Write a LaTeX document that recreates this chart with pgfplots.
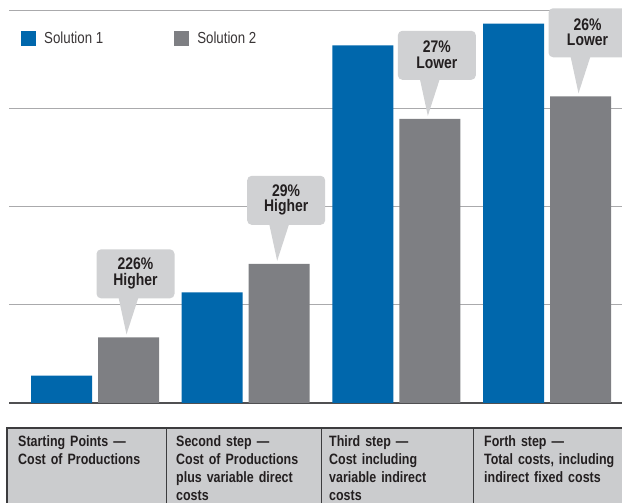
\documentclass[border=0pt]{standalone}
\usepackage{fontspec}
\setmainfont{Liberation Sans}[FakeStretch=0.83]
\usepackage{pgfplots}
\pgfplotsset{compat=1.18}

\definecolor{solblue}{RGB}{0,103,172}
\definecolor{solgray}{RGB}{126,127,131}
\definecolor{calloutgray}{RGB}{208,209,211}
\definecolor{tablegray}{RGB}{203,204,206}
\definecolor{tableline}{RGB}{60,60,62}
\definecolor{gridgray}{RGB}{170,170,172}
\definecolor{basegray}{RGB}{80,80,82}
\definecolor{ink}{RGB}{35,31,32}

% speech-bubble label pointing at the top of a Solution 2 bar
\newcommand{\callout}[4]{%
  \begin{scope}[shift={(axis cs:#1,#2)}, xshift=31.5pt, yshift=3pt]
    \fill[calloutgray] (-8pt,37pt) -- (0pt,0pt) -- (12pt,37pt) -- cycle;
    \fill[calloutgray, rounded corners=4.5pt] (-30pt,36pt) rectangle (48pt,85pt);
    \node[font=\bfseries\fontsize{16.8}{15.5}\selectfont, text=ink, align=center, inner sep=0pt]
      at (9pt,61pt) {#3\\#4};
  \end{scope}}

\begin{document}
\begin{tikzpicture}
\begin{axis}[
  scale only axis, width=613pt, height=403pt,
  xmin=-0.5708, xmax=3.4977, ymin=0, ymax=4.1122,
  axis line style={draw=none},
  xtick=\empty, ytick={1,2,3,4}, yticklabels={},
  major tick length=0pt,
  ymajorgrids, grid style={gridgray, line width=1pt},
  extra y ticks={0}, extra y tick labels={},
  extra y tick style={grid style={basegray, line width=1.6pt}},
  ybar, bar width=61pt,
  clip=false,
  legend columns=2,
  legend style={draw=none, fill=none, inner sep=0pt,
    at={(rel axis cs:0.0196,0.9256)}, anchor=north west,
    font=\fontsize{16}{16}\selectfont, text=ink!90,
    /tikz/every odd column/.append style={column sep=6pt},
    /tikz/every even column/.append style={column sep=69pt}},
  legend cell align=left,
]
\addplot[fill=solblue, draw=none, bar shift=-33.5pt,
  legend image code/.code={\fill[solblue] (0pt,-7.5pt) rectangle (15pt,7.5pt);}]
  coordinates {(0,0.28) (1,1.13) (2,3.65) (3,3.87)};
\addplot[fill=solgray, draw=none, bar shift=33.5pt,
  legend image code/.code={\fill[solgray] (0pt,-7.5pt) rectangle (15pt,7.5pt);}]
  coordinates {(0,0.67) (1,1.42) (2,2.90) (3,3.13)};
\legend{Solution 1, Solution 2}

\callout{0}{0.67}{226\%}{Higher}
\callout{1}{1.42}{29\%}{Higher}
\callout{2}{2.90}{27\%}{Lower}
\callout{3}{3.13}{26\%}{Lower}
\end{axis}

% step descriptions below the chart
\fill[tablegray] (-2pt,-25pt) rectangle (613pt,-100pt);
\draw[tableline, line width=1.2pt] (-2pt,-100pt) -- (-2pt,-25pt) -- (613pt,-25pt);
\foreach \xx in {157,312,464}
  \draw[tableline, line width=0.9pt] (\xx pt,-25pt) -- (\xx pt,-100pt);
\begin{scope}[every node/.style={anchor=north west, inner sep=0pt, text width=148pt,
    align=left, text=ink, font=\bfseries\fontsize{15}{18}\selectfont}]
  \node at (9pt,-32pt) {Starting Points ---\\Cost of Productions};
  \node at (167pt,-32pt) {Second step ---\\Cost of Productions\\plus variable direct\\costs};
  \node at (320pt,-32pt) {Third step ---\\Cost including\\variable indirect\\costs};
  \node at (475pt,-32pt) {Forth step ---\\Total costs, including\\indirect fixed costs};
\end{scope}

\pgfresetboundingbox
\path[use as bounding box] (-9pt,-100pt) rectangle (613pt,403pt);
\end{tikzpicture}
\end{document}
